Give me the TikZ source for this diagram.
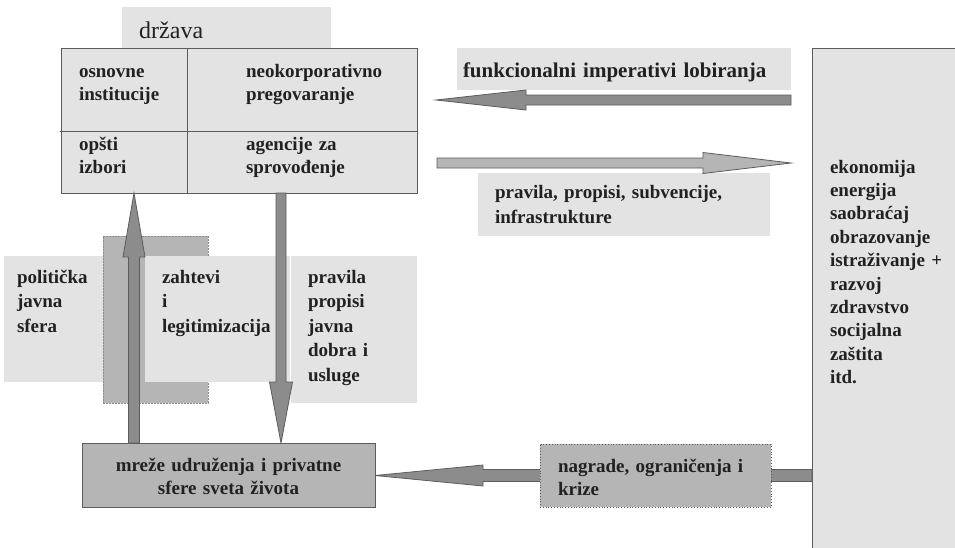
\documentclass[tikz,border=0pt]{standalone}
\usepackage{fontspec}
\setmainfont{Liberation Serif}
\usetikzlibrary{calc}
\definecolor{lightfill}{gray}{0.89}
\definecolor{midfill}{gray}{0.71}
\definecolor{darkfill}{gray}{0.55}
\definecolor{edge}{gray}{0.36}
\definecolor{ink}{gray}{0.13}
\definecolor{dashedge}{gray}{0.55}
\tikzset{
  box/.style={anchor=north west, inner sep=0pt, outer sep=0pt},
  lbl/.style={anchor=base west, inner sep=0pt, outer sep=0pt, align=left, text width=300pt, text=ink},
  fs/.style={font=\fontsize{19}{#1}\selectfont\bfseries},
  arr/.style={draw=edge, line width=0.8pt, line join=miter},
  blockarrow/.style n args={3}{
    to path={
      (\tikztostart) coordinate (bas) (\tikztotarget) coordinate (bat)
      ($(bat)!#3!(bas)$) coordinate (bah)
      ($(bas)!#1!90:(bat)$) -- ($(bah)!#1!-90:(bas)$) -- ($(bah)!#2!-90:(bas)$)
      -- (bat) -- ($(bah)!#2!90:(bas)$) -- ($(bah)!#1!90:(bas)$)
      -- ($(bas)!#1!-90:(bat)$) -- cycle
    }
  }
}
\begin{document}
\begin{tikzpicture}[x=1pt,y=-1pt]
\fill[white] (0,0) rectangle (955,547);
\useasboundingbox (0,0) rectangle (955,547);

% state block
\node[box, fill=lightfill, minimum width=209pt, minimum height=41pt] (tab) at (122,7) {};
\node[anchor=base west, inner sep=0pt, text=ink, font=\fontsize{24}{28}\selectfont] (drzava) at (139,38) {država};
\node[box, fill=lightfill, draw=edge, line width=1pt, minimum width=356pt, minimum height=145pt] (state) at (61,48) {};
\draw[edge, line width=1pt] (60,131) -- (state.east |- 0,131);
\draw[edge, line width=1pt] (state.north -| 187,0) -- (state.south -| 187,0);
\node[lbl, fs=23.5] (osn) at (79,77) {osnovne\\institucije};
\node[lbl, fs=23.5] (neo) at (246,77) {neokorporativno\\pregovaranje};
\node[lbl, fs=23.5] (ops) at (79,150) {opšti\\izbori};
\node[lbl, fs=23.5] (agn) at (246,150) {agencije za\\sprovođenje};

% top right labels
\node[box, fill=lightfill, minimum width=334pt, minimum height=42pt] (lob) at (457,48) {};
\node[lbl, text width=420pt, font=\fontsize{21}{24}\selectfont\bfseries] (lobt) at (463,77) {funkcionalni imperativi lobiranja};
\node[box, fill=lightfill, minimum width=292pt, minimum height=63pt] (infra) at (478,173) {};
\node[lbl, fs=25] (infrat) at (495,198) {pravila, propisi, subvencije,\\infrastrukture};

% economy block
\node[box, fill=lightfill, draw=edge, line width=1pt, minimum width=150pt, minimum height=502pt] (econ) at (812,48) {};
\node[lbl, fs=23.4] (econt) at (830,173) {ekonomija\\energija\\saobraćaj\\obrazovanje\\istraživanje +\\razvoj\\zdravstvo\\socijalna\\zaštita\\itd.};

% middle left panels
\node[box, fill=lightfill, minimum width=120pt, minimum height=126pt] (pol) at (4,256) {};
\node[box, fill=midfill, draw=dashedge, dash pattern=on 2pt off 1pt, line width=0.5pt, minimum width=105pt, minimum height=167pt] (mid) at (103,236) {};
\node[box, fill=lightfill, minimum width=145pt, minimum height=126pt] (zah) at (145,256) {};
\node[box, fill=lightfill, minimum width=126pt, minimum height=147pt] (prav) at (291,256) {};
\node[lbl, fs=24.5] (polt) at (17,283) {politička\\javna\\sfera};
\node[lbl, fs=24.5] (zaht) at (162,283) {zahtevi\\i\\legitimizacija};
\node[lbl, fs=24.5] (pravt) at (308,283) {pravila\\propisi\\javna\\dobra i\\usluge};

% bottom node corner
\path (82,443) coordinate (netnw);

% arrows
\coordinate (lobS) at (791,100);
\coordinate (lobE) at (436,100);
\coordinate (rulS) at (437,163);
\coordinate (rulE) at (791,163);
\draw[arr, fill=darkfill, blockarrow={5pt}{10pt}{90pt}] (lobS) to (lobE);
\draw[arr, fill=midfill, blockarrow={5pt}{10.5pt}{88pt}] (rulS) to (rulE);
\draw[arr, fill=darkfill, blockarrow={5.5pt}{11pt}{64pt}] (134,443) to (state.south -| 134,0);
\draw[arr, fill=darkfill, blockarrow={5pt}{11.5pt}{61pt}] (state.south -| 281,0) to (281,443);
\draw[arr, fill=darkfill, blockarrow={6pt}{10.5pt}{108pt}] (812,475.5) to (375,475.5);

% bottom boxes
\node[box, fill=midfill, draw=edge, line width=1pt, minimum width=293pt, minimum height=64pt] (net) at (netnw) {};
\node[anchor=base, inner sep=0pt, align=center, text width=293pt, text=ink, fs=23.5] (nett) at (228.5,471) {mreže udruženja i privatne\\sfere sveta života};
\node[box, fill=midfill, draw=edge, dotted, line width=0.8pt, minimum width=231pt, minimum height=63pt] (nag) at (540,444) {};
\node[lbl, fs=23.5] (nagt) at (558,472) {nagrade, ograničenja i\\krize};
\end{tikzpicture}
\end{document}
